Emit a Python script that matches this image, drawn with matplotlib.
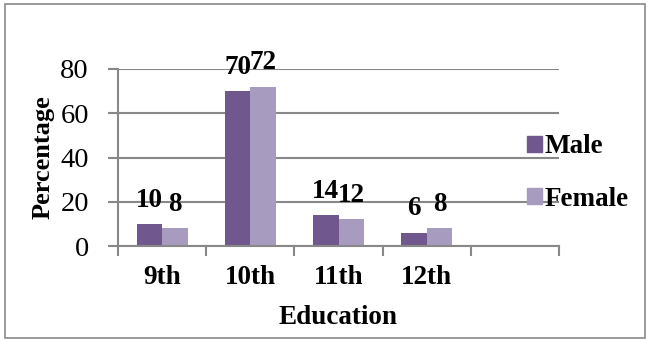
import matplotlib
matplotlib.use("Agg")
import matplotlib.pyplot as plt
import numpy as np
from matplotlib.patches import Rectangle, Patch

plt.rcParams['font.family'] = ['Liberation Serif', 'DejaVu Serif']

categories = ["9th", "10th", "11th", "12th"]
male = [10, 70, 14, 6]
female = [8, 72, 12, 8]
series_names = ["Male", "Female"]
y_ticks = [0, 20, 40, 60, 80]

male_color = "#70578D"
female_color = "#A89BC0"
grid_color = "#888888"

fig = plt.figure(figsize=(6.49, 3.40), dpi=100)
ax = fig.add_axes([118 / 649, 1 - 246 / 340, (559 - 118) / 649, (246 - 69) / 340])

x = np.arange(len(categories))
bw = 0.29
b1 = ax.bar(x - bw / 2, male, bw, color=male_color, zorder=3)
b2 = ax.bar(x + bw / 2, female, bw, color=female_color, zorder=3)

for bars, vals in ((b1, male), (b2, female)):
    for rect, v in zip(bars, vals):
        ax.annotate(str(v), (rect.get_x() + rect.get_width() / 2, v),
                    xytext=(0, 12.5), textcoords="offset points",
                    ha="center", va="baseline", fontsize=19.5,
                    fontweight="bold", zorder=4)

ax.set_xlim(-0.5, 4.5)
ax.set_ylim(0, 80)
ax.set_yticks(y_ticks)
ax.set_yticklabels([str(t) for t in y_ticks], fontsize=20.5)
ax.set_xticks(x)
ax.set_xticklabels(categories, fontsize=19.5, fontweight="bold")
ax.set_xticks(np.arange(-0.5, 5.0, 1.0), minor=True)
ax.tick_params(axis="x", which="major", length=0, pad=14)
ax.tick_params(axis="x", which="minor", length=7, width=1.5, color=grid_color)
ax.tick_params(axis="y", length=7, width=1.5, color=grid_color, pad=14)

ax.yaxis.grid(True, color=grid_color, linewidth=1.5, zorder=0)
ax.set_axisbelow(True)
for side in ("top", "right"):
    ax.spines[side].set_visible(False)
for side in ("left", "bottom"):
    ax.spines[side].set_color(grid_color)
    ax.spines[side].set_linewidth(1.5)
    ax.spines[side].set_zorder(3.5)

fig.text(43 / 649, 1 - 157 / 340, "Percentage", rotation=90, ha="center",
         va="center", fontsize=19, fontweight="bold")
fig.text(338 / 649, 1 - 318 / 340, "Education", ha="center", va="center",
         fontsize=19.5, fontweight="bold")

handles = [Patch(color=male_color), Patch(color=female_color)]
fig.legend(handles, series_names, loc="center left",
           bbox_to_anchor=(516 / 649, 1 - 173 / 340), frameon=False,
           handlelength=0.55, handleheight=0.55, handletextpad=0.1,
           labelspacing=1.0, borderaxespad=0,
           prop={"size": 19.5, "weight": "bold"})

fig.add_artist(Rectangle((5 / 649, 2 / 340), 640 / 649, 334 / 340,
                         transform=fig.transFigure, fill=False,
                         edgecolor="#8a8a8a", linewidth=1.2))

fig.savefig("out.png", dpi=100)
